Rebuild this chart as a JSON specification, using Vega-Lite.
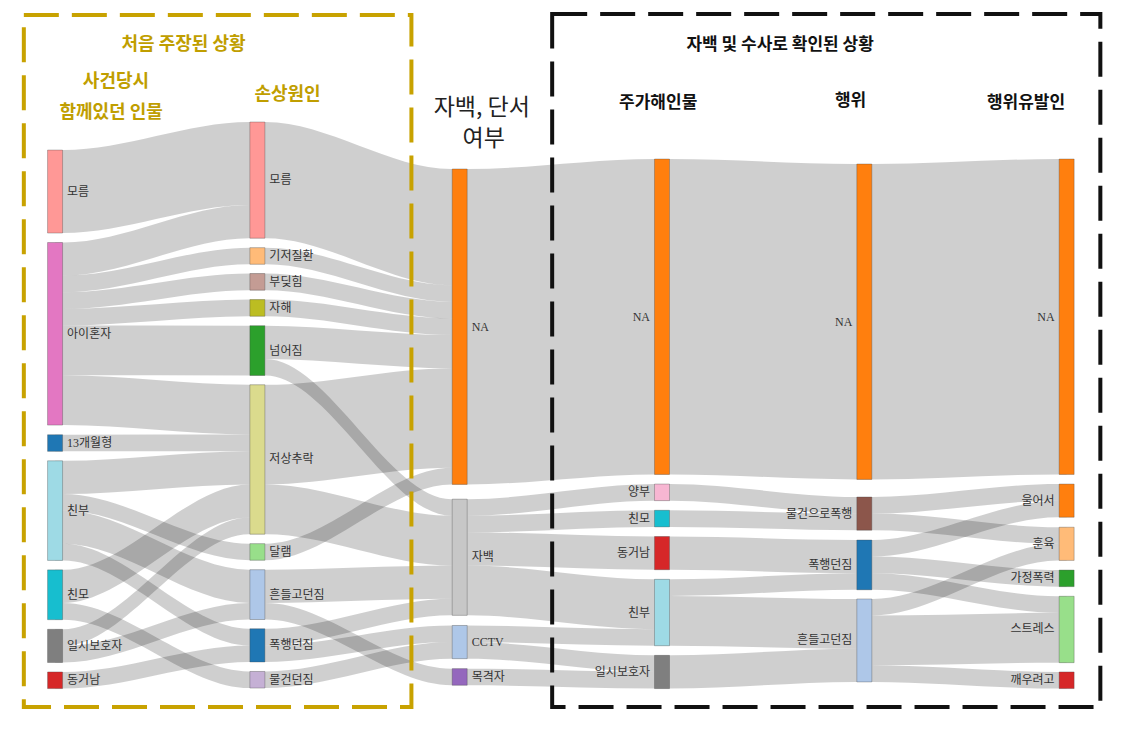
{
  "$schema": "https://vega.github.io/schema/vega-lite/v6.json",
  "width": 1145,
  "height": 738,
  "autosize": {"type": "fit", "contains": "padding"},
  "padding": 0,
  "background": "white",
  "config": {"view": {"stroke": null}},
  "datasets": {
    "links": [
      {"id": "a01", "x": [0, 0.04, 0.96, 1], "y": [1.69, 1.69, 0, 0], "y2": [6.69, 6.69, 5, 5]},
      {"id": "a02", "x": [0, 0.04, 0.96, 1], "y": [7.26, 7.26, 5, 5], "y2": [9.26, 9.26, 7, 7]},
      {"id": "a03", "x": [0, 0.04, 0.96, 1], "y": [9.26, 9.26, 7.57, 7.57], "y2": [10.26, 10.26, 8.57, 8.57]},
      {"id": "a04", "x": [0, 0.04, 0.96, 1], "y": [10.26, 10.26, 9.13, 9.13], "y2": [11.26, 11.26, 10.13, 10.13]},
      {"id": "a05", "x": [0, 0.04, 0.96, 1], "y": [11.26, 11.26, 10.7, 10.7], "y2": [12.26, 12.26, 11.7, 11.7]},
      {"id": "a06", "x": [0, 0.04, 0.96, 1], "y": [12.26, 12.26, 12.27, 12.27], "y2": [15.26, 15.26, 15.27, 15.27]},
      {"id": "a07", "x": [0, 0.04, 0.96, 1], "y": [15.26, 15.26, 15.83, 15.83], "y2": [18.26, 18.26, 18.83, 18.83]},
      {"id": "a08", "x": [0, 0.04, 0.96, 1], "y": [18.84, 18.84, 18.83, 18.83], "y2": [19.84, 19.84, 19.83, 19.83]},
      {"id": "a09", "x": [0, 0.04, 0.96, 1], "y": [20.41, 20.41, 19.83, 19.83], "y2": [22.41, 22.41, 21.83, 21.83]},
      {"id": "a10", "x": [0, 0.04, 0.96, 1], "y": [22.41, 22.41, 25.4, 25.4], "y2": [23.41, 23.41, 26.4, 26.4]},
      {"id": "a11", "x": [0, 0.04, 0.96, 1], "y": [23.41, 23.41, 26.97, 26.97], "y2": [25.41, 25.41, 28.97, 28.97]},
      {"id": "a12", "x": [0, 0.04, 0.96, 1], "y": [25.41, 25.41, 30.53, 30.53], "y2": [26.41, 26.41, 31.53, 31.53]},
      {"id": "a13", "x": [0, 0.04, 0.96, 1], "y": [26.98, 26.98, 21.83, 21.83], "y2": [28.98, 28.98, 23.83, 23.83]},
      {"id": "a14", "x": [0, 0.04, 0.96, 1], "y": [28.98, 28.98, 33.1, 33.1], "y2": [29.98, 29.98, 34.1, 34.1]},
      {"id": "a15", "x": [0, 0.04, 0.96, 1], "y": [30.56, 30.56, 23.83, 23.83], "y2": [31.56, 31.56, 24.83, 24.83]},
      {"id": "a16", "x": [0, 0.04, 0.96, 1], "y": [31.56, 31.56, 28.97, 28.97], "y2": [32.56, 32.56, 29.97, 29.97]},
      {"id": "a17", "x": [0, 0.04, 0.96, 1], "y": [33.13, 33.13, 31.53, 31.53], "y2": [34.13, 34.13, 32.53, 32.53]},
      {"id": "b01", "x": [1, 1.04, 1.96, 2], "y": [0, 0, 2.83, 2.83], "y2": [7, 7, 9.83, 9.83]},
      {"id": "b02", "x": [1, 1.04, 1.96, 2], "y": [7.57, 7.57, 9.83, 9.83], "y2": [8.57, 8.57, 10.83, 10.83]},
      {"id": "b03", "x": [1, 1.04, 1.96, 2], "y": [9.13, 9.13, 10.83, 10.83], "y2": [10.13, 10.13, 11.83, 11.83]},
      {"id": "b04", "x": [1, 1.04, 1.96, 2], "y": [10.7, 10.7, 11.83, 11.83], "y2": [11.7, 11.7, 12.83, 12.83]},
      {"id": "b05", "x": [1, 1.04, 1.96, 2], "y": [12.27, 12.27, 12.83, 12.83], "y2": [14.27, 14.27, 14.83, 14.83]},
      {"id": "b06", "x": [1, 1.04, 1.96, 2], "y": [14.27, 14.27, 22.72, 22.72], "y2": [15.27, 15.27, 23.72, 23.72]},
      {"id": "b07", "x": [1, 1.04, 1.96, 2], "y": [15.83, 15.83, 14.83, 14.83], "y2": [21.83, 21.83, 20.83, 20.83]},
      {"id": "b08", "x": [1, 1.04, 1.96, 2], "y": [21.83, 21.83, 23.72, 23.72], "y2": [24.83, 24.83, 26.72, 26.72]},
      {"id": "b09", "x": [1, 1.04, 1.96, 2], "y": [25.4, 25.4, 20.83, 20.83], "y2": [26.4, 26.4, 21.83, 21.83]},
      {"id": "b10", "x": [1, 1.04, 1.96, 2], "y": [26.97, 26.97, 26.72, 26.72], "y2": [28.97, 28.97, 28.72, 28.72]},
      {"id": "b11", "x": [1, 1.04, 1.96, 2], "y": [28.97, 28.97, 32.93, 32.93], "y2": [29.97, 29.97, 33.93, 33.93]},
      {"id": "b12", "x": [1, 1.04, 1.96, 2], "y": [30.53, 30.53, 28.72, 28.72], "y2": [31.53, 31.53, 29.72, 29.72]},
      {"id": "b13", "x": [1, 1.04, 1.96, 2], "y": [31.53, 31.53, 30.33, 30.33], "y2": [32.53, 32.53, 31.33, 31.33]},
      {"id": "b14", "x": [1, 1.04, 1.96, 2], "y": [33.1, 33.1, 31.33, 31.33], "y2": [34.1, 34.1, 32.33, 32.33]},
      {"id": "c01", "x": [2, 2.04, 2.96, 3], "y": [2.83, 2.83, 2.23, 2.23], "y2": [21.83, 21.83, 21.23, 21.23]},
      {"id": "c02", "x": [2, 2.04, 2.96, 3], "y": [22.72, 22.72, 21.81, 21.81], "y2": [23.72, 23.72, 22.81, 22.81]},
      {"id": "c03", "x": [2, 2.04, 2.96, 3], "y": [23.72, 23.72, 23.39, 23.39], "y2": [24.72, 24.72, 24.39, 24.39]},
      {"id": "c04", "x": [2, 2.04, 2.96, 3], "y": [24.72, 24.72, 24.97, 24.97], "y2": [26.72, 26.72, 26.97, 26.97]},
      {"id": "c05", "x": [2, 2.04, 2.96, 3], "y": [26.72, 26.72, 27.55, 27.55], "y2": [29.72, 29.72, 30.55, 30.55]},
      {"id": "c06", "x": [2, 2.04, 2.96, 3], "y": [30.33, 30.33, 30.55, 30.55], "y2": [31.33, 31.33, 31.55, 31.55]},
      {"id": "c07", "x": [2, 2.04, 2.96, 3], "y": [31.33, 31.33, 32.13, 32.13], "y2": [32.33, 32.33, 33.13, 33.13]},
      {"id": "c08", "x": [2, 2.04, 2.96, 3], "y": [32.93, 32.93, 33.13, 33.13], "y2": [33.93, 33.93, 34.13, 34.13]},
      {"id": "d01", "x": [3, 3.04, 3.96, 4], "y": [2.23, 2.23, 2.53, 2.53], "y2": [21.23, 21.23, 21.53, 21.53]},
      {"id": "d02", "x": [3, 3.04, 3.96, 4], "y": [21.81, 21.81, 22.59, 22.59], "y2": [22.81, 22.81, 23.59, 23.59]},
      {"id": "d03", "x": [3, 3.04, 3.96, 4], "y": [23.39, 23.39, 23.59, 23.59], "y2": [24.39, 24.39, 24.59, 24.59]},
      {"id": "d04", "x": [3, 3.04, 3.96, 4], "y": [24.97, 24.97, 25.18, 25.18], "y2": [26.97, 26.97, 27.18, 27.18]},
      {"id": "d05", "x": [3, 3.04, 3.96, 4], "y": [27.55, 27.55, 27.18, 27.18], "y2": [28.55, 28.55, 28.18, 28.18]},
      {"id": "d06", "x": [3, 3.04, 3.96, 4], "y": [28.55, 28.55, 28.73, 28.73], "y2": [31.55, 31.55, 31.73, 31.73]},
      {"id": "d07", "x": [3, 3.04, 3.96, 4], "y": [32.13, 32.13, 31.73, 31.73], "y2": [34.13, 34.13, 33.73, 33.73]},
      {"id": "e01", "x": [4, 4.04, 4.96, 5], "y": [2.53, 2.53, 2.23, 2.23], "y2": [21.53, 21.53, 21.23, 21.23]},
      {"id": "e02", "x": [4, 4.04, 4.96, 5], "y": [22.59, 22.59, 21.81, 21.81], "y2": [23.59, 23.59, 22.81, 22.81]},
      {"id": "e03", "x": [4, 4.04, 4.96, 5], "y": [23.59, 23.59, 24.41, 24.41], "y2": [24.59, 24.59, 25.41, 25.41]},
      {"id": "e04", "x": [4, 4.04, 4.96, 5], "y": [25.18, 25.18, 22.81, 22.81], "y2": [26.18, 26.18, 23.81, 23.81]},
      {"id": "e05", "x": [4, 4.04, 4.96, 5], "y": [26.18, 26.18, 26.99, 26.99], "y2": [27.18, 27.18, 27.99, 27.99]},
      {"id": "e06", "x": [4, 4.04, 4.96, 5], "y": [27.18, 27.18, 28.57, 28.57], "y2": [28.18, 28.18, 29.57, 29.57]},
      {"id": "e07", "x": [4, 4.04, 4.96, 5], "y": [28.73, 28.73, 25.41, 25.41], "y2": [29.73, 29.73, 26.41, 26.41]},
      {"id": "e08", "x": [4, 4.04, 4.96, 5], "y": [29.73, 29.73, 29.57, 29.57], "y2": [32.73, 32.73, 32.57, 32.57]},
      {"id": "e09", "x": [4, 4.04, 4.96, 5], "y": [32.73, 32.73, 33.13, 33.13], "y2": [33.73, 33.73, 34.13, 34.13]}
    ],
    "nodes": [
      {"name": "모름", "col": 0, "top": 1.69, "bottom": 6.69},
      {"name": "아이혼자", "col": 0, "top": 7.26, "bottom": 18.26},
      {"name": "13개월형", "col": 0, "top": 18.84, "bottom": 19.84},
      {"name": "친부", "col": 0, "top": 20.41, "bottom": 26.41},
      {"name": "친모", "col": 0, "top": 26.98, "bottom": 29.98},
      {"name": "일시보호자", "col": 0, "top": 30.56, "bottom": 32.56},
      {"name": "동거남", "col": 0, "top": 33.13, "bottom": 34.13},
      {"name": "모름", "col": 1, "top": 0, "bottom": 7},
      {"name": "기저질환", "col": 1, "top": 7.57, "bottom": 8.57},
      {"name": "부딪힘", "col": 1, "top": 9.13, "bottom": 10.13},
      {"name": "자해", "col": 1, "top": 10.7, "bottom": 11.7},
      {"name": "넘어짐", "col": 1, "top": 12.27, "bottom": 15.27},
      {"name": "저상추락", "col": 1, "top": 15.83, "bottom": 24.83},
      {"name": "달램", "col": 1, "top": 25.4, "bottom": 26.4},
      {"name": "흔들고던짐", "col": 1, "top": 26.97, "bottom": 29.97},
      {"name": "폭행던짐", "col": 1, "top": 30.53, "bottom": 32.53},
      {"name": "물건던짐", "col": 1, "top": 33.1, "bottom": 34.1},
      {"name": "NA", "col": 2, "top": 2.83, "bottom": 21.83},
      {"name": "자백", "col": 2, "top": 22.72, "bottom": 29.72},
      {"name": "CCTV", "col": 2, "top": 30.33, "bottom": 32.33},
      {"name": "목격자", "col": 2, "top": 32.93, "bottom": 33.93},
      {"name": "NA", "col": 3, "top": 2.23, "bottom": 21.23},
      {"name": "양부", "col": 3, "top": 21.81, "bottom": 22.81},
      {"name": "친모", "col": 3, "top": 23.39, "bottom": 24.39},
      {"name": "동거남", "col": 3, "top": 24.97, "bottom": 26.97},
      {"name": "친부", "col": 3, "top": 27.55, "bottom": 31.55},
      {"name": "일시보호자", "col": 3, "top": 32.13, "bottom": 34.13},
      {"name": "NA", "col": 4, "top": 2.53, "bottom": 21.53},
      {"name": "물건으로폭행", "col": 4, "top": 22.59, "bottom": 24.59},
      {"name": "폭행던짐", "col": 4, "top": 25.18, "bottom": 28.18},
      {"name": "흔들고던짐", "col": 4, "top": 28.73, "bottom": 33.73},
      {"name": "NA", "col": 5, "top": 2.23, "bottom": 21.23},
      {"name": "울어서", "col": 5, "top": 21.81, "bottom": 23.81},
      {"name": "훈육", "col": 5, "top": 24.41, "bottom": 26.41},
      {"name": "가정폭력", "col": 5, "top": 26.99, "bottom": 27.99},
      {"name": "스트레스", "col": 5, "top": 28.57, "bottom": 32.57},
      {"name": "깨우려고", "col": 5, "top": 33.13, "bottom": 34.13}
    ],
    "boxes": [
      {"box": "gold", "x0": -0.1543, "x1": 1.7614, "y0": -6.446, "y1": 35.241},
      {"box": "black", "x0": 2.4571, "x1": 5.1666, "y0": -6.506, "y1": 35.241}
    ],
    "titles": [
      {"t": "처음 주장된 상황", "x": 0.635, "y": -4.64, "g": "gold"},
      {"t": "사건당시", "x": 0.301, "y": -2.41, "g": "gold"},
      {"t": "함께있던 인물", "x": 0.277, "y": -0.54, "g": "gold"},
      {"t": "손상원인", "x": 1.149, "y": -1.63, "g": "gold"},
      {"t": "자백, 단서", "x": 2.109, "y": -0.84, "g": "mid"},
      {"t": "여부", "x": 2.119, "y": 1.02, "g": "mid"},
      {"t": "자백 및 수사로 확인된 상황", "x": 3.584, "y": -4.64, "g": "black"},
      {"t": "주가해인물", "x": 2.981, "y": -1.14, "g": "black"},
      {"t": "행위", "x": 3.932, "y": -1.27, "g": "black"},
      {"t": "행위유발인", "x": 4.799, "y": -1.14, "g": "black"}
    ]
  },
  "layer": [
    {
      "data": {"name": "links"},
      "transform": [{"flatten": ["x", "y", "y2"]}],
      "mark": {"type": "area", "interpolate": "monotone", "color": "#000000", "fillOpacity": 0.19},
      "encoding": {
        "x": {"field": "x", "type": "quantitative", "scale": {"domain": [-0.2474, 5.3626], "nice": false, "zero": false}, "axis": null},
        "y": {"field": "y", "type": "quantitative", "scale": {"domain": [-7.349, 37.108], "nice": false, "zero": false, "reverse": true}, "axis": null},
        "y2": {"field": "y2"},
        "detail": {"field": "id", "type": "nominal"},
        "order": {"value": null}
      }
    },
    {
      "data": {"name": "nodes"},
      "mark": {"type": "bar", "width": 15, "stroke": "#444444", "strokeWidth": 0.6, "strokeOpacity": 0.55},
      "encoding": {
        "x": {"field": "col", "type": "quantitative", "scale": {"domain": [-0.2474, 5.3626], "nice": false, "zero": false}, "axis": null},
        "y": {"field": "top", "type": "quantitative", "scale": {"domain": [-7.349, 37.108], "nice": false, "zero": false, "reverse": true}, "axis": null},
        "y2": {"field": "bottom"},
        "color": {
          "field": "name",
          "type": "nominal",
          "legend": null,
          "scale": {
            "domain": ["모름", "아이혼자", "13개월형", "친부", "친모", "일시보호자", "동거남", "기저질환", "부딪힘", "자해", "넘어짐", "저상추락", "달램", "흔들고던짐", "폭행던짐", "물건던짐", "NA", "자백", "CCTV", "목격자", "양부", "물건으로폭행", "울어서", "훈육", "가정폭력", "스트레스", "깨우려고"],
            "range": ["#ff9896", "#e377c2", "#1f77b4", "#9edae5", "#17becf", "#7f7f7f", "#d62728", "#ffbb78", "#c49c94", "#bcbd22", "#2ca02c", "#dbdb8d", "#98df8a", "#aec7e8", "#1f77b4", "#c5b0d5", "#ff7f0e", "#c7c7c7", "#aec7e8", "#9467bd", "#f7b6d2", "#8c564b", "#ff7f0e", "#ffbb78", "#2ca02c", "#98df8a", "#d62728"]
          }
        }
      }
    },
    {
      "data": {"name": "nodes"},
      "transform": [{"filter": "datum.col <= 2"}, {"calculate": "(datum.top + datum.bottom) / 2", "as": "mid"}],
      "mark": {"type": "text", "align": "left", "baseline": "middle", "dx": 12, "font": "Liberation Serif, Noto Sans CJK KR", "fontSize": 12, "color": "#333333"},
      "encoding": {
        "x": {"field": "col", "type": "quantitative", "scale": {"domain": [-0.2474, 5.3626], "nice": false, "zero": false}, "axis": null},
        "y": {"field": "mid", "type": "quantitative", "scale": {"domain": [-7.349, 37.108], "nice": false, "zero": false, "reverse": true}, "axis": null},
        "text": {"field": "name"}
      }
    },
    {
      "data": {"name": "nodes"},
      "transform": [{"filter": "datum.col >= 3"}, {"calculate": "(datum.top + datum.bottom) / 2", "as": "mid"}],
      "mark": {"type": "text", "align": "right", "baseline": "middle", "dx": -12, "font": "Liberation Serif, Noto Sans CJK KR", "fontSize": 12, "color": "#333333"},
      "encoding": {
        "x": {"field": "col", "type": "quantitative", "scale": {"domain": [-0.2474, 5.3626], "nice": false, "zero": false}, "axis": null},
        "y": {"field": "mid", "type": "quantitative", "scale": {"domain": [-7.349, 37.108], "nice": false, "zero": false, "reverse": true}, "axis": null},
        "text": {"field": "name"}
      }
    },
    {
      "data": {"name": "boxes"},
      "mark": {"type": "rect", "fillOpacity": 0, "strokeWidth": 4, "strokeDash": [35, 13]},
      "encoding": {
        "x": {"field": "x0", "type": "quantitative", "scale": {"domain": [-0.2474, 5.3626], "nice": false, "zero": false}, "axis": null},
        "x2": {"field": "x1"},
        "y": {"field": "y0", "type": "quantitative", "scale": {"domain": [-7.349, 37.108], "nice": false, "zero": false, "reverse": true}, "axis": null},
        "y2": {"field": "y1"},
        "stroke": {"field": "box", "type": "nominal", "legend": null, "scale": {"domain": ["gold", "black"], "range": ["#c8a200", "#111111"]}}
      }
    },
    {
      "data": {"name": "titles"},
      "transform": [{"filter": "datum.g == 'gold'"}],
      "mark": {"type": "text", "align": "center", "baseline": "middle", "font": "Noto Sans CJK KR", "fontWeight": "bold", "fontSize": 18, "color": "#c09e00"},
      "encoding": {
        "x": {"field": "x", "type": "quantitative", "scale": {"domain": [-0.2474, 5.3626], "nice": false, "zero": false}, "axis": null},
        "y": {"field": "y", "type": "quantitative", "scale": {"domain": [-7.349, 37.108], "nice": false, "zero": false, "reverse": true}, "axis": null},
        "text": {"field": "t"}
      }
    },
    {
      "data": {"name": "titles"},
      "transform": [{"filter": "datum.g == 'mid'"}],
      "mark": {"type": "text", "align": "center", "baseline": "middle", "font": "Noto Sans CJK KR", "fontSize": 23, "color": "#222222"},
      "encoding": {
        "x": {"field": "x", "type": "quantitative", "scale": {"domain": [-0.2474, 5.3626], "nice": false, "zero": false}, "axis": null},
        "y": {"field": "y", "type": "quantitative", "scale": {"domain": [-7.349, 37.108], "nice": false, "zero": false, "reverse": true}, "axis": null},
        "text": {"field": "t"}
      }
    },
    {
      "data": {"name": "titles"},
      "transform": [{"filter": "datum.g == 'black'"}],
      "mark": {"type": "text", "align": "center", "baseline": "middle", "font": "Noto Sans CJK KR", "fontWeight": "bold", "fontSize": 17, "color": "#111111"},
      "encoding": {
        "x": {"field": "x", "type": "quantitative", "scale": {"domain": [-0.2474, 5.3626], "nice": false, "zero": false}, "axis": null},
        "y": {"field": "y", "type": "quantitative", "scale": {"domain": [-7.349, 37.108], "nice": false, "zero": false, "reverse": true}, "axis": null},
        "text": {"field": "t"}
      }
    }
  ]
}
